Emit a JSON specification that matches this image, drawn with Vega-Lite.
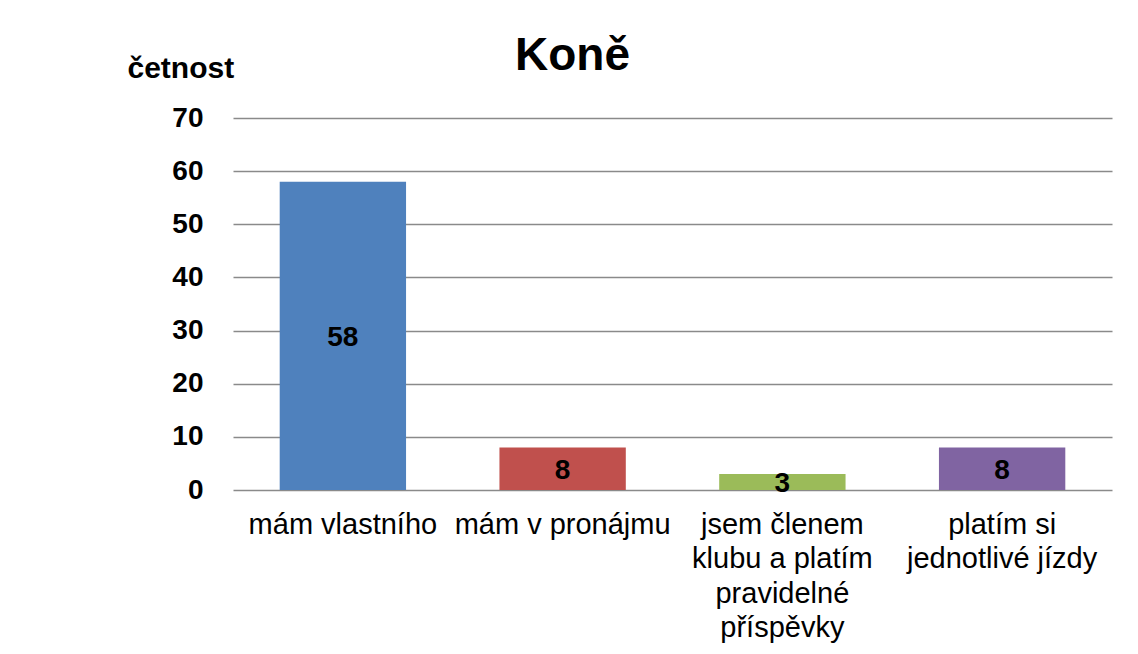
{
  "$schema": "https://vega.github.io/schema/vega-lite/v6.json",
  "autosize": {"type": "none"},
  "padding": {"left": 233, "top": 118, "right": 26, "bottom": 164},
  "width": 879,
  "height": 372,
  "background": "white",
  "title": {
    "text": "Koně",
    "font": "Liberation Sans",
    "fontSize": 46,
    "fontWeight": "bold",
    "color": "black",
    "anchor": "start",
    "frame": "group",
    "dx": 282,
    "dy": 27,
    "offset": 0
  },
  "data": {
    "values": [
      {"kategorie": "mám vlastního", "cetnost": 58},
      {"kategorie": "mám v pronájmu", "cetnost": 8},
      {"kategorie": "jsem členem klubu a platím pravidelné příspěvky", "cetnost": 3},
      {"kategorie": "platím si jednotlivé jízdy", "cetnost": 8}
    ]
  },
  "encoding": {
    "x": {
      "field": "kategorie",
      "type": "nominal",
      "sort": null,
      "scale": {"paddingInner": 0.425, "paddingOuter": 0.2125},
      "axis": {
        "title": null,
        "domain": false,
        "ticks": false,
        "labelAngle": 0,
        "labelFont": "Liberation Sans",
        "labelFontSize": 29,
        "labelColor": "black",
        "labelBaseline": "top",
        "labelPadding": 20,
        "labelLineHeight": 34.5,
        "labelLimit": 400,
        "labelExpr": "datum.value == 'jsem členem klubu a platím pravidelné příspěvky' ? ['jsem členem', 'klubu a platím', 'pravidelné', 'příspěvky'] : datum.value == 'platím si jednotlivé jízdy' ? ['platím si', 'jednotlivé jízdy'] : datum.value"
      }
    }
  },
  "layer": [
    {
      "mark": {"type": "bar"},
      "encoding": {
        "y": {
          "field": "cetnost",
          "type": "quantitative",
          "scale": {"domain": [0, 70], "nice": false},
          "axis": {
            "title": "četnost",
            "titleAngle": 0,
            "titleX": -106,
            "titleY": -41,
            "titleAlign": "left",
            "titleBaseline": "alphabetic",
            "titleFont": "Liberation Sans",
            "titleFontSize": 30,
            "titleFontWeight": "bold",
            "titleColor": "black",
            "values": [0, 10, 20, 30, 40, 50, 60, 70],
            "domain": false,
            "ticks": false,
            "grid": true,
            "gridColor": "#8a8a8a",
            "gridWidth": 1.5,
            "labelFont": "Liberation Sans",
            "labelFontSize": 28,
            "labelFontWeight": "bold",
            "labelColor": "black",
            "labelPadding": 30
          }
        },
        "color": {
          "field": "kategorie",
          "type": "nominal",
          "sort": null,
          "scale": {"range": ["#4F81BD", "#C0504D", "#9BBB59", "#8064A2"]},
          "legend": null
        }
      }
    },
    {
      "transform": [{"calculate": "datum.cetnost / 2", "as": "stred"}],
      "mark": {"type": "text", "font": "Liberation Sans", "fontSize": 28, "fontWeight": "bold", "color": "black", "baseline": "middle", "dy": 2},
      "encoding": {
        "y": {"field": "stred", "type": "quantitative"},
        "text": {"field": "cetnost", "type": "quantitative"}
      }
    }
  ],
  "config": {"view": {"stroke": null}}
}
